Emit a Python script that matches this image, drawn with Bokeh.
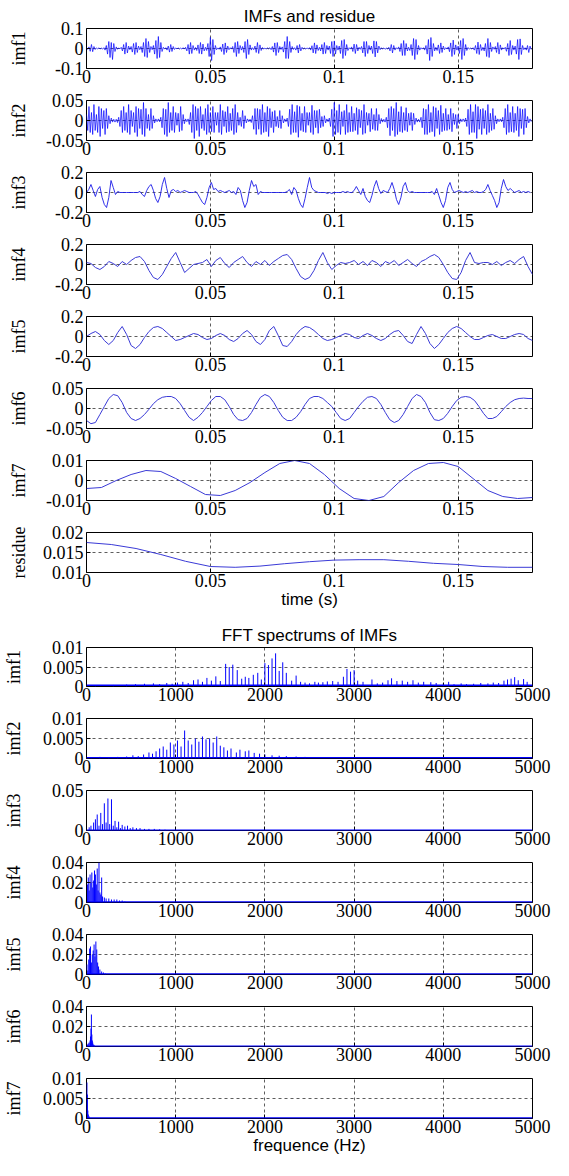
import numpy as np
from bokeh.plotting import figure
from bokeh.layouts import column
from bokeh.models import Range1d, FixedTicker, Span
from bokeh.embed import file_html
from bokeh.resources import INLINE

# ---------------- data: time-domain IMFs ----------------
DT_HF = 0.0005
DT_FAST = 0.0009
DT_MID = 0.0018
DT_SLOW = 0.006
DT_RES = 0.01

IMF1 = [0.002,-0.004,0.008,-0.014,0.020,-0.016,0.010,-0.005,0.003,-0.002,0.003,-0.002,0.002,-0.003,0.004,-0.008,0.015,-0.028,0.035,-0.045,
        0.030,-0.055,0.025,-0.015,0.008,-0.004,0.003,-0.002,0.006,-0.012,0.020,-0.028,0.030,-0.022,0.012,-0.006,0.010,-0.018,0.025,-0.030,
        0.030,-0.020,0.012,-0.006,0.010,-0.020,0.030,-0.040,0.050,-0.045,0.035,-0.020,0.010,-0.006,0.015,-0.028,0.040,-0.050,0.060,-0.045,
        0.030,-0.015,0.006,-0.003,0.004,-0.008,0.012,-0.018,0.020,-0.015,0.010,-0.005,0.003,-0.002,0.003,-0.003,0.002,-0.003,0.004,-0.003,
        0.006,-0.012,0.020,-0.028,0.030,-0.025,0.015,-0.008,0.005,-0.010,0.018,-0.025,0.030,-0.028,0.022,-0.012,0.006,-0.010,0.025,-0.040,
        0.055,-0.060,0.045,-0.030,0.015,-0.006,0.003,-0.004,0.008,-0.015,0.022,-0.030,0.028,-0.020,0.012,-0.006,0.004,-0.003,0.010,-0.020,
        0.030,-0.040,0.035,-0.025,0.015,-0.008,0.010,-0.020,0.035,-0.050,0.045,-0.030,0.018,-0.008,0.004,-0.006,0.012,-0.020,0.030,-0.025,
        0.018,-0.010,0.005,-0.003,0.002,-0.003,0.003,-0.002,0.004,-0.006,0.010,-0.018,0.028,-0.035,0.030,-0.020,0.010,-0.005,0.008,-0.018,
        0.035,-0.050,0.060,-0.050,0.035,-0.020,0.010,-0.005,0.004,-0.008,0.015,-0.022,0.020,-0.012,0.006,-0.003,0.002,-0.003,0.003,-0.002,
        0.004,-0.008,0.014,-0.022,0.028,-0.025,0.018,-0.010,0.006,-0.012,0.020,-0.028,0.030,-0.025,0.015,-0.008,0.012,-0.025,0.035,-0.040,
        0.038,-0.028,0.015,-0.008,0.012,-0.025,0.040,-0.050,0.045,-0.035,0.020,-0.010,0.004,-0.003,0.008,-0.015,0.022,-0.025,0.020,-0.012,
        0.006,-0.004,0.010,-0.022,0.035,-0.040,0.035,-0.025,0.015,-0.008,0.012,-0.025,0.038,-0.042,0.035,-0.022,0.012,-0.006,0.004,-0.003,
        0.003,-0.004,0.002,-0.003,0.006,-0.012,0.020,-0.022,0.015,-0.008,0.004,-0.003,0.008,-0.015,0.025,-0.035,0.040,-0.035,0.025,-0.012,
        0.006,-0.010,0.020,-0.035,0.050,-0.055,0.045,-0.030,0.015,-0.008,0.004,-0.003,0.004,-0.008,0.015,-0.028,0.045,-0.060,0.055,-0.040,
        0.025,-0.012,0.006,-0.010,0.018,-0.025,0.028,-0.020,0.012,-0.006,0.004,-0.003,0.008,-0.016,0.028,-0.040,0.042,-0.030,0.018,-0.008,
        0.012,-0.025,0.040,-0.055,0.050,-0.035,0.020,-0.010,0.005,-0.003,0.002,-0.003,0.004,-0.008,0.015,-0.025,0.032,-0.030,0.020,-0.010,
        0.006,-0.012,0.025,-0.040,0.050,-0.045,0.030,-0.015,0.008,-0.004,0.010,-0.020,0.030,-0.028,0.018,-0.008,0.004,-0.003,0.006,-0.014,
        0.025,-0.035,0.040,-0.030,0.015,-0.008,0.012,-0.028,0.045,-0.055,0.048,-0.030,0.015,-0.006,0.004,-0.008,0.015,-0.020,0.012,-0.005]

IMF2 = [0.015,-0.025,0.035,-0.030,0.020,-0.035,0.040,-0.025,0.015,-0.030,0.035,-0.040,0.030,-0.020,0.025,-0.035,0.030,-0.020,0.012,-0.008,
        0.006,-0.004,0.003,-0.004,0.003,-0.005,0.008,-0.015,0.025,-0.030,0.035,-0.025,0.020,-0.030,0.040,-0.035,0.025,-0.015,0.020,-0.030,
        0.035,-0.040,0.030,-0.020,0.028,-0.035,0.045,-0.040,0.030,-0.020,0.015,-0.025,0.030,-0.020,0.012,-0.006,0.004,-0.003,0.004,-0.003,
        0.008,-0.018,0.030,-0.035,0.028,-0.040,0.045,-0.030,0.020,-0.025,0.035,-0.030,0.020,-0.012,0.018,-0.028,0.035,-0.025,0.015,-0.008,
        0.004,-0.003,0.004,-0.010,0.020,-0.030,0.040,-0.045,0.035,-0.025,0.030,-0.040,0.035,-0.020,0.015,-0.025,0.030,-0.035,0.040,-0.030,
        0.020,-0.028,0.035,-0.030,0.020,-0.012,0.020,-0.030,0.040,-0.035,0.025,-0.015,0.022,-0.030,0.035,-0.028,0.018,-0.025,0.030,-0.035,
        0.040,-0.030,0.020,-0.012,0.008,-0.015,0.025,-0.020,0.012,-0.006,0.004,-0.003,0.003,-0.005,0.012,-0.022,0.030,-0.035,0.030,-0.022,
        0.028,-0.035,0.040,-0.030,0.020,-0.028,0.035,-0.040,0.030,-0.018,0.022,-0.030,0.025,-0.015,0.010,-0.018,0.025,-0.020,0.012,-0.006,
        0.004,-0.003,0.006,-0.015,0.028,-0.035,0.040,-0.030,0.022,-0.030,0.038,-0.042,0.035,-0.025,0.018,-0.028,0.035,-0.030,0.020,-0.012,
        0.020,-0.030,0.038,-0.035,0.025,-0.018,0.025,-0.032,0.028,-0.018,0.010,-0.015,0.012,-0.006,0.004,-0.003,0.006,-0.015,0.028,-0.040,
        0.045,-0.035,0.025,-0.030,0.040,-0.035,0.022,-0.015,0.025,-0.035,0.040,-0.030,0.020,-0.028,0.035,-0.028,0.018,-0.025,0.032,-0.035,
        0.028,-0.018,0.025,-0.035,0.040,-0.032,0.020,-0.012,0.018,-0.028,0.030,-0.022,0.015,-0.025,0.030,-0.025,0.015,-0.008,0.005,-0.004,
        0.003,-0.004,0.008,-0.018,0.030,-0.038,0.035,-0.025,0.030,-0.040,0.045,-0.035,0.022,-0.028,0.035,-0.030,0.020,-0.025,0.032,-0.028,
        0.018,-0.012,0.020,-0.025,0.018,-0.010,0.006,-0.004,0.003,-0.004,0.008,-0.018,0.030,-0.035,0.028,-0.035,0.040,-0.030,0.020,-0.028,
        0.035,-0.040,0.032,-0.020,0.025,-0.035,0.038,-0.028,0.018,-0.025,0.030,-0.025,0.015,-0.022,0.030,-0.028,0.018,-0.010,0.015,-0.020,
        0.015,-0.008,0.004,-0.003,0.004,-0.003,0.006,-0.015,0.028,-0.035,0.040,-0.030,0.022,-0.030,0.040,-0.045,0.035,-0.022,0.028,-0.035,
        0.030,-0.020,0.025,-0.035,0.040,-0.030,0.018,-0.025,0.030,-0.022,0.012,-0.008,0.004,-0.003,0.004,-0.003,0.008,-0.018,0.030,-0.035,
        0.040,-0.030,0.020,-0.028,0.035,-0.030,0.018,-0.025,0.035,-0.040,0.030,-0.020,0.028,-0.035,0.030,-0.018,0.010,-0.006,0.004,-0.003]

IMF3 = [0.00,0.03,0.08,0.02,-0.04,0.03,0.06,-0.05,-0.12,-0.15,
        -0.05,0.12,0.05,-0.02,0.01,0.00,0.00,0.00,0.00,0.00,
        0.00,0.00,0.00,0.00,0.01,-0.02,-0.04,0.02,0.06,0.08,
        0.02,-0.06,-0.10,-0.04,0.08,0.15,0.04,-0.05,0.02,0.03,
        0.01,0.02,0.00,0.01,0.02,0.01,0.00,0.00,0.00,0.01,
        -0.02,-0.06,-0.10,-0.12,-0.05,0.05,0.10,0.03,0.04,0.01,
        0.02,0.01,0.00,0.01,0.02,0.00,0.01,-0.02,0.05,0.02,
        -0.08,-0.15,-0.10,0.02,0.12,0.06,0.08,-0.02,0.01,0.00,
        0.00,0.00,0.00,0.00,0.00,0.00,0.00,0.00,0.00,0.00,
        0.01,0.03,-0.02,0.05,0.02,-0.06,-0.12,-0.15,-0.06,0.05,
        0.15,0.05,0.02,0.01,0.00,0.00,0.00,0.00,-0.01,0.00,
        -0.01,0.00,0.00,0.00,0.00,0.01,0.00,0.01,0.00,0.00,
        0.02,0.06,0.02,-0.02,0.04,-0.04,-0.08,-0.10,-0.03,0.06,
        0.12,0.04,-0.01,0.02,0.01,0.00,0.04,0.10,0.03,-0.07,
        -0.12,-0.05,0.06,0.10,0.02,0.00,0.01,0.00,0.00,0.00,
        0.00,0.00,0.00,0.00,0.00,0.01,-0.02,0.04,-0.03,-0.10,
        -0.15,-0.08,0.05,0.10,0.03,0.00,0.01,0.02,0.01,0.00,
        0.01,0.00,0.01,0.02,0.00,0.01,0.00,0.00,0.01,0.03,
        0.08,0.02,-0.03,-0.08,-0.15,-0.10,0.04,0.13,0.06,0.02,
        0.04,0.02,0.00,0.01,0.02,0.00,0.01,0.00,0.01,0.00]

IMF4 = [0.02,0.01,-0.03,-0.05,-0.02,0.03,0.01,-0.02,0.03,0.00,
        0.04,0.07,0.08,0.03,-0.06,-0.13,-0.15,-0.10,-0.02,0.06,
        0.12,0.02,-0.08,-0.04,0.00,0.01,0.02,0.05,-0.02,0.04,
        0.07,0.01,-0.03,0.02,0.05,0.08,0.02,-0.02,0.03,0.00,
        0.04,-0.01,0.03,0.06,0.09,0.10,0.05,-0.04,-0.12,-0.15,
        -0.13,-0.06,0.04,0.12,0.02,-0.05,-0.01,0.02,0.01,0.02,
        0.04,0.00,0.03,-0.01,0.04,0.02,-0.02,0.03,0.01,0.04,
        -0.01,0.02,0.05,0.01,-0.02,0.03,0.05,0.08,0.10,0.07,
        0.00,-0.08,-0.14,-0.15,-0.08,0.04,0.12,0.02,0.01,0.02,
        0.02,0.00,0.03,-0.01,0.02,0.04,0.01,0.05,0.08,-0.02,
        -0.10]

IMF5 = [0.00,0.03,0.05,0.02,-0.04,-0.08,-0.04,0.04,0.10,0.02,
        -0.09,-0.12,-0.08,-0.01,0.05,0.09,0.10,0.08,0.04,0.00,
        -0.04,-0.03,-0.01,0.01,0.03,0.02,-0.01,-0.03,-0.02,0.01,
        0.03,0.01,-0.03,-0.05,-0.02,0.03,0.06,0.02,-0.05,-0.08,
        -0.03,0.06,0.10,0.01,-0.09,-0.10,-0.05,0.02,0.07,0.10,
        0.09,0.06,0.02,-0.02,-0.04,-0.03,-0.01,0.01,0.03,0.02,
        -0.01,-0.02,0.01,0.03,0.01,-0.02,-0.04,-0.02,0.02,0.05,
        0.06,0.01,-0.05,-0.07,0.02,0.10,0.03,-0.07,-0.12,-0.08,
        -0.02,0.04,0.08,0.10,0.08,0.04,0.00,-0.03,-0.03,-0.01,
        0.01,0.02,0.00,-0.02,-0.02,0.00,0.02,0.03,0.02,-0.02,
        -0.04]

IMF6 = [-0.030,-0.038,-0.035,-0.015,0.005,0.025,0.035,0.032,0.015,-0.010,
        -0.025,-0.030,-0.025,-0.015,-0.002,0.012,0.022,0.028,0.030,0.030,
        0.025,0.012,-0.005,-0.022,-0.030,-0.022,-0.010,0.005,0.020,0.030,
        0.030,0.022,0.005,-0.015,-0.028,-0.030,-0.025,-0.010,0.010,0.028,
        0.035,0.030,0.015,-0.005,-0.022,-0.030,-0.030,-0.022,-0.008,0.010,
        0.025,0.030,0.030,0.025,0.015,0.005,-0.010,-0.025,-0.030,-0.025,
        -0.010,0.005,0.018,0.028,0.030,0.025,0.010,-0.010,-0.028,-0.035,
        -0.030,-0.015,0.005,0.025,0.035,0.030,0.015,-0.010,-0.028,-0.030,
        -0.025,-0.012,0.005,0.020,0.028,0.030,0.028,0.020,0.005,-0.012,
        -0.025,-0.025,-0.020,-0.008,0.005,0.015,0.022,0.025,0.026,0.025,
        0.025]

IMF7 = [-0.0040,-0.0035,0.0000,0.0030,0.0050,0.0045,0.0010,-0.0030,-0.0070,-0.0075,
        -0.0050,-0.0010,0.0040,0.0085,0.0100,0.0085,0.0030,-0.0040,-0.0090,-0.0100,
        -0.0080,-0.0010,0.0050,0.0085,0.0090,0.0070,0.0010,-0.0050,-0.0080,-0.0090,
        -0.0085]

RESIDUE = [0.0175,0.0170,0.0160,0.0145,0.0128,0.0115,0.0113,0.0116,0.0122,0.0127,
           0.0131,0.0132,0.0132,0.0128,0.0123,0.0120,0.0115,0.0113,0.0113]

# ---------------- data: FFT spectra (frequency Hz, amplitude) ----------------
SPEC1 = [(100,0.0003),(300,0.0004),(450,0.0005),(550,0.0006),(650,0.0007),(750,0.0008),
         (820,0.0006),(900,0.0009),(960,0.0007),(1020,0.0010),(1080,0.0012),(1140,0.0009),
         (1200,0.0016),(1250,0.0018),(1300,0.0012),(1350,0.0022),(1400,0.0015),(1450,0.0026),
         (1500,0.0014),(1560,0.0058),(1600,0.0050),(1640,0.0056),(1690,0.0042),(1740,0.0020),
         (1780,0.0025),(1820,0.0022),(1870,0.0030),(1920,0.0035),(1960,0.0018),(2000,0.0060),
         (2040,0.0055),(2080,0.0072),(2120,0.0085),(2160,0.0040),(2200,0.0062),(2240,0.0035),
         (2300,0.0015),(2350,0.0028),(2400,0.0012),(2450,0.0010),(2500,0.0008),(2560,0.0012),
         (2600,0.0010),(2650,0.0011),(2700,0.0013),(2760,0.0014),(2820,0.0012),(2880,0.0025),
         (2920,0.0045),(2960,0.0038),(3000,0.0042),(3040,0.0015),(3100,0.0012),(3200,0.0018),
         (3260,0.0008),(3320,0.0010),(3380,0.0016),(3420,0.0021),(3480,0.0014),(3540,0.0015),
         (3600,0.0012),(3660,0.0016),(3720,0.0010),(3780,0.0012),(3860,0.0011),(3920,0.0009),
         (4000,0.0008),(4060,0.0012),(4120,0.0006),(4200,0.0008),(4260,0.0006),(4340,0.0007),
         (4420,0.0009),(4500,0.0008),(4560,0.0010),(4620,0.0009),(4680,0.0015),(4720,0.0018),
         (4760,0.0020),(4800,0.0024),(4840,0.0016),(4900,0.0019),(4940,0.0012)]
SPEC2 = [(50,0.0003),(150,0.0004),(250,0.0003),(350,0.0004),(450,0.0005),(520,0.0008),
         (580,0.0006),(640,0.0010),(700,0.0015),(740,0.0012),(780,0.0018),(820,0.0025),
         (860,0.0030),(900,0.0022),(940,0.0040),(980,0.0035),(1020,0.0045),(1060,0.0030),
         (1100,0.0070),(1140,0.0045),(1180,0.0035),(1220,0.0050),(1260,0.0042),(1300,0.0055),
         (1340,0.0048),(1380,0.0050),(1420,0.0040),(1460,0.0055),(1500,0.0032),(1540,0.0028),
         (1580,0.0020),(1620,0.0025),(1680,0.0015),(1720,0.0022),(1780,0.0018),(1820,0.0020),
         (1880,0.0014),(1940,0.0012),(2000,0.0010),(2080,0.0008),(2160,0.0007),(2240,0.0006),
         (2350,0.0005),(2450,0.0004)]
SPEC3 = [(30,0.004),(50,0.006),(80,0.010),(100,0.014),(120,0.020),(140,0.006),(160,0.022),
         (180,0.008),(200,0.034),(220,0.010),(240,0.040),(260,0.008),(280,0.039),(300,0.006),
         (320,0.012),(340,0.004),(360,0.011),(380,0.003),(400,0.007),(430,0.005),(460,0.006),
         (490,0.003),(520,0.004),(560,0.003),(600,0.003),(650,0.002),(700,0.002),(760,0.002),
         (820,0.0015),(880,0.001)]
SPEC4 = [(10,0.018),(20,0.025),(30,0.012),(40,0.028),(50,0.020),(60,0.030),(70,0.015),
         (80,0.022),(90,0.032),(100,0.028),(110,0.018),(120,0.034),(130,0.012),(140,0.040),
         (150,0.010),(160,0.008),(170,0.025),(180,0.006),(200,0.005),(220,0.004),(250,0.004),
         (280,0.003),(310,0.003),(340,0.003),(370,0.002),(400,0.002),(430,0.001)]
SPEC5 = [(5,0.010),(15,0.004),(25,0.015),(35,0.026),(45,0.028),(55,0.012),(65,0.020),
         (75,0.024),(85,0.030),(95,0.018),(105,0.033),(115,0.025),(125,0.012),(135,0.008),
         (150,0.005),(170,0.003),(190,0.002),(210,0.001)]
SPEC6 = [(10,0.002),(20,0.003),(30,0.004),(40,0.006),(45,0.010),(50,0.018),(55,0.032),
         (60,0.012),(65,0.006),(70,0.004),(80,0.002),(90,0.001)]
SPEC7 = [(5,0.0090),(10,0.0060),(15,0.0020),(20,0.0010),(30,0.0005)]
SPEC_FLOOR = [0.0003, 0.0002, 0.0004, 0.0004, 0.0004, 0.0003, 0.0001]

# ---------------- axis settings ----------------
TIME_TICKS = [0, 0.05, 0.1, 0.15]
TIME_TICK_LABELS = ["0", "0.05", "0.1", "0.15"]
FREQ_TICKS = [0, 1000, 2000, 3000, 4000, 5000]
FREQ_TICK_LABELS = ["0", "1000", "2000", "3000", "4000", "5000"]

TOP_NAMES = ["imf1", "imf2", "imf3", "imf4", "imf5", "imf6", "imf7", "residue"]
TOP_SERIES = [IMF1, IMF2, IMF3, IMF4, IMF5, IMF6, IMF7, RESIDUE]
TOP_DT = [DT_HF, DT_HF, DT_FAST, DT_MID, DT_MID, DT_MID, DT_SLOW, DT_RES]
TOP_YTICKS = [[-0.1, 0, 0.1], [-0.05, 0, 0.05], [-0.2, 0, 0.2], [-0.2, 0, 0.2],
              [-0.2, 0, 0.2], [-0.05, 0, 0.05], [-0.01, 0, 0.01], [0.01, 0.015, 0.02]]
TOP_YLABELS = [["-0.1", "0", "0.1"], ["-0.05", "0", "0.05"], ["-0.2", "0", "0.2"],
               ["-0.2", "0", "0.2"], ["-0.2", "0", "0.2"], ["-0.05", "0", "0.05"],
               ["-0.01", "0", "0.01"], ["0.01", "0.015", "0.02"]]

BOT_NAMES = ["imf1", "imf2", "imf3", "imf4", "imf5", "imf6", "imf7"]
BOT_SPECS = [SPEC1, SPEC2, SPEC3, SPEC4, SPEC5, SPEC6, SPEC7]
BOT_YTICKS = [[0, 0.005, 0.01], [0, 0.005, 0.01], [0, 0.05], [0, 0.02, 0.04],
              [0, 0.02, 0.04], [0, 0.02, 0.04], [0, 0.005, 0.01]]
BOT_YLABELS = [["0", "0.005", "0.01"], ["0", "0.005", "0.01"], ["0", "0.05"],
               ["0", "0.02", "0.04"], ["0", "0.02", "0.04"], ["0", "0.02", "0.04"],
               ["0", "0.005", "0.01"]]

W = 553
SERIF = "Liberation Serif"
SANS = "Liberation Sans"
TICK_PX = 18
NAME_PX = 18
TITLE_PX = 17
YLAB_STANDOFF = 3


def text_width(s, px):
    # approximate advance widths of Liberation Serif glyphs (em units)
    em = {".": 0.25, "-": 0.333}
    return sum(em.get(c, 0.5) for c in s) * px


def make_panel(height, top, bottom, left, right, xmax, xticks, xlabels, yticks, ylabels,
               name, name_center, title=None, xlabel=None):
    p = figure(width=W, height=height, output_backend="svg", toolbar_location=None,
               title=title,
               x_range=Range1d(0, xmax), y_range=Range1d(yticks[0], yticks[-1]),
               min_border_top=top, min_border_bottom=bottom,
               min_border_left=left, min_border_right=right)
    p.background_fill_color = "white"
    p.border_fill_color = "white"
    p.outline_line_color = "black"
    p.outline_line_width = 1
    p.xaxis.ticker = FixedTicker(ticks=xticks)
    p.xaxis.major_label_overrides = {t: s for t, s in zip(xticks, xlabels)}
    p.yaxis.ticker = FixedTicker(ticks=yticks)
    p.yaxis.major_label_overrides = {t: s for t, s in zip(yticks, ylabels)}
    for ax in (p.xaxis[0], p.yaxis[0]):
        ax.axis_line_color = None
        ax.major_tick_in = 4
        ax.major_tick_out = 0
        ax.major_tick_line_color = "black"
        ax.minor_tick_line_color = None
        ax.major_label_text_font = SERIF
        ax.major_label_text_font_size = f"{TICK_PX}px"
        ax.major_label_text_color = "black"
    p.xaxis.major_label_standoff = 1
    p.yaxis.major_label_standoff = YLAB_STANDOFF
    # y label (placed so its centre sits at a fixed distance from the frame)
    w = max(text_width(s, TICK_PX) for s in ylabels)
    p.yaxis.axis_label = name
    p.yaxis.axis_label_text_font = SERIF
    p.yaxis.axis_label_text_font_size = f"{NAME_PX}px"
    p.yaxis.axis_label_text_font_style = "normal"
    p.yaxis.axis_label_text_color = "black"
    p.yaxis.axis_label_standoff = int(round(left - YLAB_STANDOFF - w - NAME_PX * 0.55 - name_center))
    if xlabel:
        p.xaxis.axis_label = xlabel
        p.xaxis.axis_label_text_font = SANS
        p.xaxis.axis_label_text_font_size = f"{TITLE_PX}px"
        p.xaxis.axis_label_text_font_style = "normal"
        p.xaxis.axis_label_text_color = "black"
        p.xaxis.axis_label_standoff = 0
    if title:
        p.title.align = "center"
        p.title.text_font = SANS
        p.title.text_font_size = f"{TITLE_PX}px"
        p.title.text_font_style = "normal"
        p.title.text_color = "black"
        p.title.standoff = 6
    for g in (p.xgrid[0], p.ygrid[0]):
        g.grid_line_color = "black"
        g.grid_line_alpha = 0.8
        g.grid_line_width = 0.8
        g.grid_line_dash = "3 3"
    return p


figs = []

# ---------- top section: IMFs and residue ----------
top_borders = [(28, 23), (9, 23), (9, 23), (9, 23), (9, 23), (9, 23), (9, 23), (9, 48)]
n_top = len(TOP_NAMES)
for i, (name, vals, dt, yt, yl) in enumerate(zip(TOP_NAMES, TOP_SERIES, TOP_DT, TOP_YTICKS, TOP_YLABELS)):
    bt, bb = top_borders[i]
    p = make_panel(bt + 40 + bb, bt, bb, 78, 15, 0.18, TIME_TICKS, TIME_TICK_LABELS, yt, yl,
                   name, 14,
                   title="IMFs and residue" if i == 0 else None,
                   xlabel="time (s)" if i == n_top - 1 else None)
    t = np.arange(len(vals)) * dt
    if i < 2:
        p.line(t, vals, line_color="#0000ff", line_width=0.7)
    elif i == 2:
        p.line(t, vals, line_color="#1a1ae8", line_width=0.9)
    else:
        p.line(t, vals, line_color="#3a3ad6", line_width=1)
    figs.append(p)

# ---------- bottom section: FFT spectra ----------
bot_borders = [(26, 23), (9, 23), (9, 23), (9, 23), (9, 23), (9, 23), (9, 42)]
n_bot = len(BOT_NAMES)
for i, (name, spec, yt, yl) in enumerate(zip(BOT_NAMES, BOT_SPECS, BOT_YTICKS, BOT_YLABELS)):
    bt, bb = bot_borders[i]
    p = make_panel(bt + 40 + bb, bt, bb, 81, 21, 5000, FREQ_TICKS, FREQ_TICK_LABELS, yt, yl,
                   name, 12,
                   title="FFT spectrums of IMFs" if i == 0 else None,
                   xlabel="frequence (Hz)" if i == n_bot - 1 else None)
    f = [s[0] for s in spec]
    a = [s[1] for s in spec]
    p.add_layout(Span(location=SPEC_FLOOR[i], dimension="width", line_color="#0000ff", line_width=1.5))
    p.segment(x0=f, y0=[0] * len(f), x1=f, y1=a, line_color="#0000ff", line_width=1)
    figs.append(p)

layout = column(*figs, spacing=0)
open("out.html", "w").write(file_html(layout, INLINE))
